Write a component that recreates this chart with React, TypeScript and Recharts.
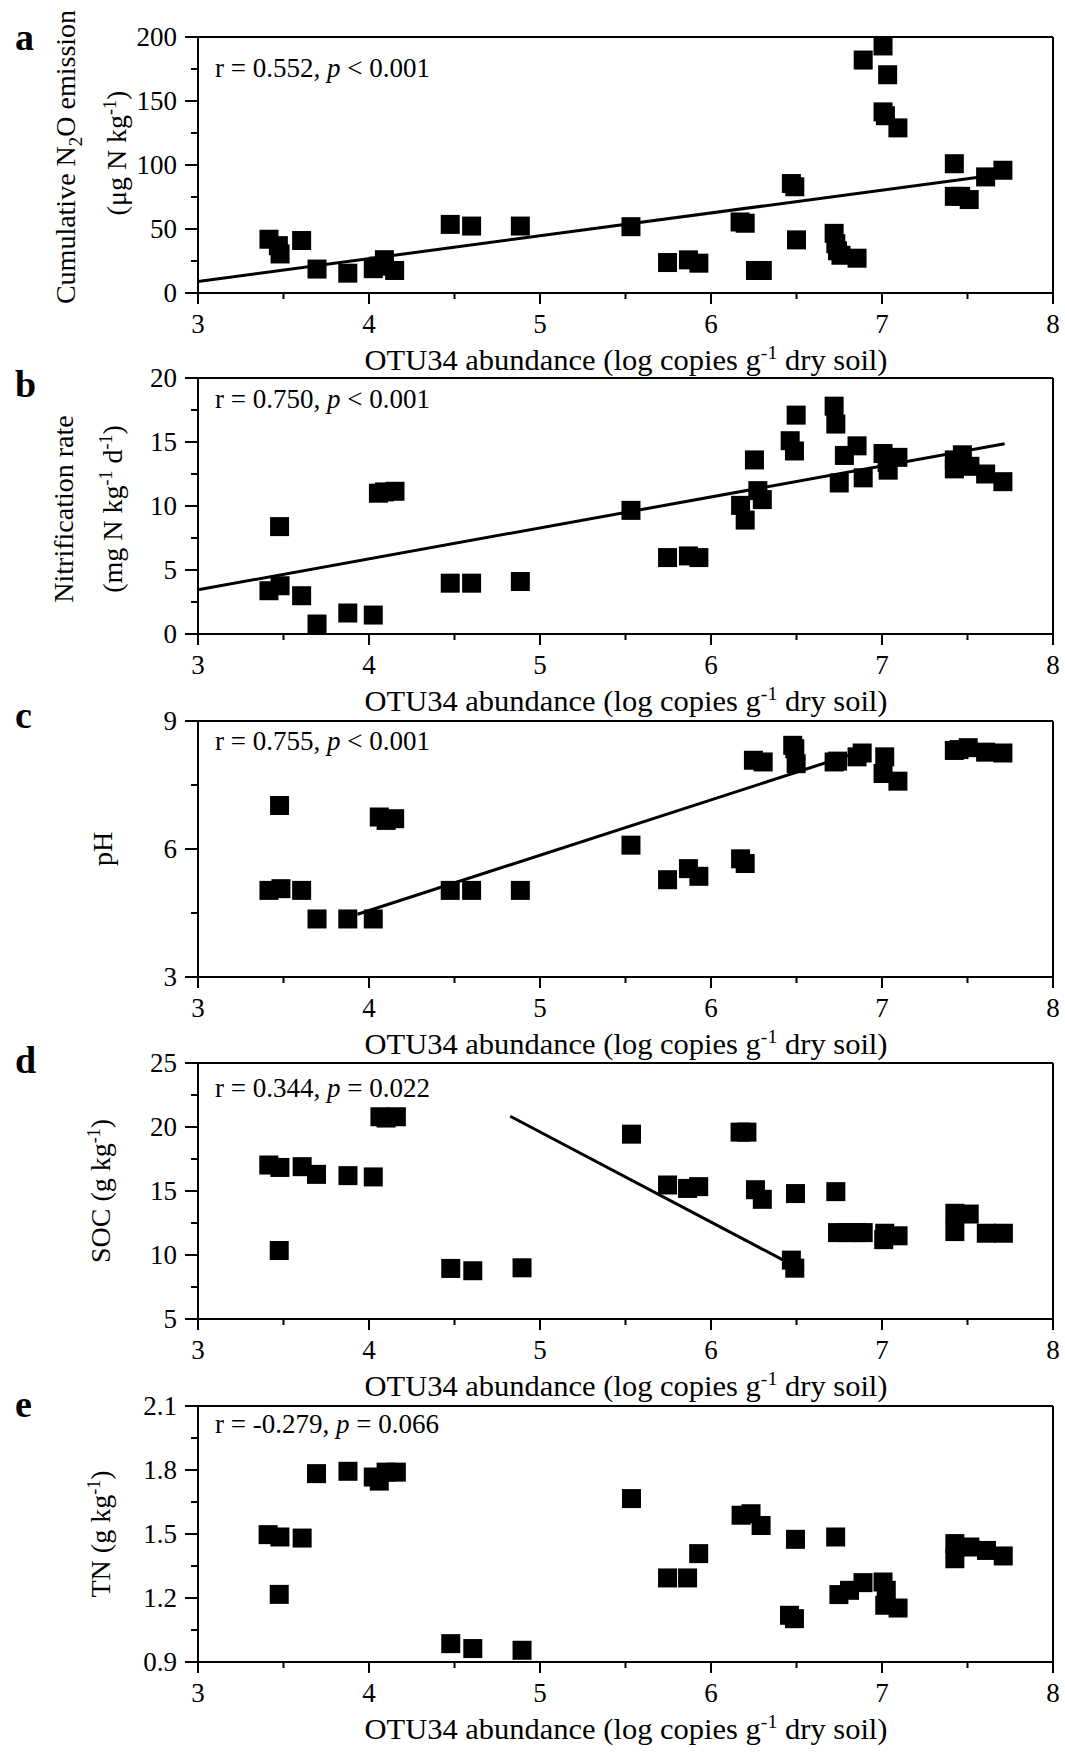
import React from 'react';
import { ScatterChart, Scatter, XAxis, YAxis, ReferenceLine } from 'recharts';

const FONT = '"Liberation Serif", "Times New Roman", Times, serif';

// shared x axis (OTU34 abundance, log copies)
const xTicksAll = [3, 3.5, 4, 4.5, 5, 5.5, 6, 6.5, 7, 7.5, 8];
const xTicksMajor = [3, 4, 5, 6, 7, 8];

// a: cumulative N2O emission
const n2oX = [3.415, 3.47, 3.48, 3.606, 3.696, 3.876, 4.025, 4.055, 4.09, 4.15, 4.475, 4.6, 4.885, 5.532, 5.746, 5.868, 5.929, 6.17, 6.2, 6.26, 6.3, 6.47, 6.49, 6.5, 6.72, 6.73, 6.74, 6.76, 6.854, 6.89, 7.006, 7.033, 7.006, 7.02, 7.093, 7.423, 7.423, 7.46, 7.51, 7.606, 7.707];
const n2oY = [42, 37, 30.5, 41, 18.7, 15.5, 19, 21, 26, 17.6, 53.6, 52.3, 52.3, 51.8, 23.8, 25.9, 23.3, 55.5, 54.5, 17.6, 17.6, 85.5, 83, 41.5, 46.6, 38.5, 33, 29.5, 27.2, 182, 193, 170.5, 141.5, 138.5, 129, 101, 75.5, 75.5, 73, 90.7, 95.9];
const n2oFitX = [3, 7.707];
const n2oFitY = [9, 93];
const n2oYTicks = [0, 25, 50, 75, 100, 125, 150, 175, 200];
const n2oYMajor = [0, 50, 100, 150, 200];

// b: nitrification rate
const nitX = [3.415, 3.48, 3.477, 3.606, 3.696, 3.876, 4.025, 4.055, 4.09, 4.152, 4.475, 4.6, 4.885, 5.532, 5.746, 5.868, 5.929, 6.173, 6.2, 6.254, 6.274, 6.3, 6.463, 6.488, 6.498, 6.72, 6.73, 6.78, 6.75, 6.854, 6.89, 7.006, 7.03, 7.036, 7.093, 7.423, 7.423, 7.47, 7.514, 7.606, 7.707];
const nitY = [3.38, 3.77, 8.39, 2.99, 0.78, 1.64, 1.48, 11.0, 11.1, 11.15, 3.97, 3.97, 4.1, 9.66, 5.97, 6.1, 5.97, 10.05, 8.9, 13.6, 11.2, 10.5, 15.1, 14.3, 17.1, 17.8, 16.4, 13.95, 11.8, 14.7, 12.2, 14.1, 13.4, 12.8, 13.8, 13.6, 12.9, 14.0, 13.1, 12.5, 11.9];
const nitFitX = [3, 7.717];
const nitFitY = [3.45, 14.86];
const nitYTicks = [0, 2.5, 5, 7.5, 10, 12.5, 15, 17.5, 20];
const nitYMajor = [0, 5, 10, 15, 20];

// c: pH
const phX = [3.415, 3.485, 3.477, 3.606, 3.696, 3.876, 4.025, 4.06, 4.1, 4.15, 4.475, 4.6, 4.885, 5.532, 5.746, 5.868, 5.929, 6.173, 6.2, 6.248, 6.305, 6.478, 6.49, 6.498, 6.72, 6.74, 6.854, 6.884, 7.016, 7.006, 7.093, 7.423, 7.45, 7.504, 7.606, 7.707];
const phY = [5.03, 5.07, 7.02, 5.03, 4.36, 4.36, 4.36, 6.75, 6.67, 6.71, 5.03, 5.03, 5.03, 6.09, 5.28, 5.54, 5.36, 5.77, 5.66, 8.08, 8.04, 8.43, 8.35, 8.0, 8.04, 8.06, 8.16, 8.25, 8.16, 7.77, 7.59, 8.31, 8.33, 8.375, 8.27, 8.25];
const phFitX = [3.933, 6.87];
const phFitY = [4.47, 8.28];
const phYTicks = [3, 4.5, 6, 7.5, 9];
const phYMajor = [3, 6, 9];

// d: SOC
const socX = [3.414, 3.479, 3.475, 3.609, 3.693, 3.877, 4.025, 4.064, 4.1, 4.16, 4.478, 4.607, 4.895, 5.535, 5.746, 5.863, 5.928, 6.17, 6.21, 6.26, 6.3, 6.494, 6.47, 6.49, 6.73, 6.74, 6.8, 6.85, 6.89, 7.016, 7.01, 7.094, 7.426, 7.51, 7.426, 7.61, 7.71];
const socY = [17.03, 16.84, 10.35, 16.9, 16.3, 16.2, 16.1, 20.8, 20.7, 20.8, 8.95, 8.77, 9.0, 19.44, 15.47, 15.2, 15.34, 19.6, 19.6, 15.1, 14.35, 14.8, 9.6, 8.97, 14.95, 11.75, 11.75, 11.75, 11.75, 11.7, 11.2, 11.5, 13.26, 13.2, 11.83, 11.7, 11.7];
const socFitX = [4.826, 6.42];
const socFitY = [20.84, 9.62];
const socYTicks = [5, 7.5, 10, 12.5, 15, 17.5, 20, 22.5, 25];
const socYMajor = [5, 10, 15, 20, 25];

// e: TN
const tnX = [3.41, 3.479, 3.475, 3.609, 3.693, 3.877, 4.025, 4.06, 4.1, 4.16, 4.478, 4.607, 4.895, 5.535, 5.746, 5.863, 5.928, 6.176, 6.234, 6.293, 6.494, 6.459, 6.488, 6.729, 6.748, 6.81, 6.889, 7.006, 7.025, 7.016, 7.094, 7.426, 7.426, 7.514, 7.611, 7.709];
const tnY = [1.497, 1.486, 1.217, 1.481, 1.783, 1.794, 1.767, 1.748, 1.79, 1.79, 0.986, 0.963, 0.955, 1.666, 1.294, 1.294, 1.408, 1.588, 1.595, 1.54, 1.475, 1.119, 1.103, 1.486, 1.216, 1.236, 1.272, 1.275, 1.236, 1.166, 1.153, 1.455, 1.384, 1.439, 1.423, 1.397];
const tnYTicks = [0.9, 1.05, 1.2, 1.35, 1.5, 1.65, 1.8, 1.95, 2.1];
const tnYMajor = [0.9, 1.2, 1.5, 1.8, 2.1];

const PLOT_LEFT = 198;
const PLOT_H = 256;
const MARGIN_TOP = 37;
const CHART_H = 340;
const X_AXIS_H = 40;
const Y_AXIS_W = 60;

const isIn = (v: number, arr: number[]) => arr.some((m) => Math.abs(m - v) < 1e-6);

const XTick = (props: any) => {
  const { x, y, payload } = props;
  const v = payload.value;
  const major = isIn(v, xTicksMajor);
  return (
    <g>
      <line x1={x} x2={x} y1={y} y2={y + (major ? 11 : 6)} stroke="#000" strokeWidth={2} />
      {major && (
        <text x={x} y={y + 31} textAnchor="middle" dominantBaseline="central" fontFamily={FONT} fontSize={27} fill="#000">
          {v}
        </text>
      )}
    </g>
  );
};

const makeYTick = (majors: number[], decimals: number) => (props: any) => {
  const { x, y, payload } = props;
  const v = payload.value;
  const major = isIn(v, majors);
  return (
    <g>
      <line x1={x - (major ? 13 : 7)} x2={x} y1={y} y2={y} stroke="#000" strokeWidth={2} />
      {major && (
        <text x={x - 21} y={y} textAnchor="end" dominantBaseline="central" fontFamily={FONT} fontSize={27} fill="#000">
          {v.toFixed(decimals)}
        </text>
      )}
    </g>
  );
};

const Square = (p: any) => <rect x={p.cx - 9.5} y={p.cy - 9.5} width={19} height={19} fill="#000" />;

type Panel = {
  key: string;
  xs: number[];
  ys: number[];
  yDomain: [number, number];
  yTicks: number[];
  yMajor: number[];
  decimals: number;
  fitX?: number[];
  fitY?: number[];
  plotTop: number;
};

const panels: Panel[] = [
  { key: 'a', xs: n2oX, ys: n2oY, yDomain: [0, 200], yTicks: n2oYTicks, yMajor: n2oYMajor, decimals: 0, fitX: n2oFitX, fitY: n2oFitY, plotTop: 37 },
  { key: 'b', xs: nitX, ys: nitY, yDomain: [0, 20], yTicks: nitYTicks, yMajor: nitYMajor, decimals: 0, fitX: nitFitX, fitY: nitFitY, plotTop: 378 },
  { key: 'c', xs: phX, ys: phY, yDomain: [3, 9], yTicks: phYTicks, yMajor: phYMajor, decimals: 0, fitX: phFitX, fitY: phFitY, plotTop: 721 },
  { key: 'd', xs: socX, ys: socY, yDomain: [5, 25], yTicks: socYTicks, yMajor: socYMajor, decimals: 0, fitX: socFitX, fitY: socFitY, plotTop: 1063 },
  { key: 'e', xs: tnX, ys: tnY, yDomain: [0.9, 2.1], yTicks: tnYTicks, yMajor: tnYMajor, decimals: 1, plotTop: 1406 },
];

const PanelChart = ({ p }: { p: Panel }) => {
  const data = p.xs.map((x, i) => ({ x, y: p.ys[i] }));
  const YT = makeYTick(p.yMajor, p.decimals);
  return (
    <div style={{ position: 'absolute', left: 0, top: p.plotTop - MARGIN_TOP }}>
      <ScatterChart
        width={1065}
        height={CHART_H}
        margin={{ top: MARGIN_TOP, right: 12, bottom: CHART_H - MARGIN_TOP - PLOT_H - X_AXIS_H, left: PLOT_LEFT - Y_AXIS_W }}
      >
        <XAxis
          type="number"
          dataKey="x"
          domain={[3, 8]}
          ticks={xTicksAll}
          interval={0}
          height={X_AXIS_H}
          tickSize={0}
          tickMargin={0}
          tickLine={false}
          axisLine={{ stroke: '#000', strokeWidth: 2 }}
          tick={(tp: any) => <XTick {...tp} />}
          allowDataOverflow
        />
        <YAxis
          type="number"
          dataKey="y"
          domain={p.yDomain}
          ticks={p.yTicks}
          interval={0}
          width={Y_AXIS_W}
          tickSize={0}
          tickMargin={0}
          tickLine={false}
          axisLine={{ stroke: '#000', strokeWidth: 2 }}
          tick={(tp: any) => <YT {...tp} />}
          allowDataOverflow
        />
        <ReferenceLine y={p.yDomain[1]} stroke="#000" strokeWidth={2} />
        <ReferenceLine x={8} stroke="#000" strokeWidth={2} />
        {p.fitX && p.fitY && (
          <ReferenceLine
            segment={[
              { x: p.fitX[0], y: p.fitY[0] },
              { x: p.fitX[1], y: p.fitY[1] },
            ]}
            stroke="#000"
            strokeWidth={3}
          />
        )}
        <Scatter data={data} fill="#000" shape={Square} isAnimationActive={false} />
      </ScatterChart>
    </div>
  );
};

const T = { fontFamily: FONT, fill: '#000' } as const;

const XTitle = ({ axisY }: { axisY: number }) => (
  <text x={626} y={axisY + 77} textAnchor="middle" fontSize={29} textLength={523} lengthAdjust="spacingAndGlyphs" {...T}>
    OTU34 abundance (log copies g
    <tspan dy={-11} fontSize={19}>-1</tspan>
    <tspan dy={11}> dry soil)</tspan>
  </text>
);

const RText = ({ y, r, rel, pv }: { y: number; r: string; rel: string; pv: string }) => (
  <text x={215} y={y} fontSize={27} {...T}>
    {`r = ${r}, `}
    <tspan fontStyle="italic">p</tspan>
    {` ${rel} ${pv}`}
  </text>
);

const rot = (bx: number, cy: number) => `translate(${bx},${cy}) rotate(-90)`;

export default function App() {
  return (
    <div style={{ position: 'absolute', left: 0, top: 0, width: 1065, height: 1754, background: '#fff', overflow: 'hidden' }}>
      {panels.map((p) => (
        <PanelChart key={p.key} p={p} />
      ))}
      <svg width={1065} height={1754} style={{ position: 'absolute', left: 0, top: 0, pointerEvents: 'none' }}>
        {/* panel letters */}
        <text x={15} y={50} fontSize={38} fontWeight="bold" {...T}>a</text>
        <text x={15} y={397} fontSize={38} fontWeight="bold" {...T}>b</text>
        <text x={15} y={728} fontSize={38} fontWeight="bold" {...T}>c</text>
        <text x={15} y={1073} fontSize={38} fontWeight="bold" {...T}>d</text>
        <text x={15} y={1417} fontSize={38} fontWeight="bold" {...T}>e</text>

        {/* y titles */}
        <text transform={rot(75, 157)} textAnchor="middle" fontSize={28} {...T}>
          Cumulative N
          <tspan dy={7} fontSize={19}>2</tspan>
          <tspan dy={-7}>O emission</tspan>
        </text>
        <text transform={rot(126, 153)} textAnchor="middle" fontSize={28} {...T}>
          (μg N kg
          <tspan dy={-10} fontSize={18}>-1</tspan>
          <tspan dy={10}>)</tspan>
        </text>
        <text transform={rot(73, 509)} textAnchor="middle" fontSize={28} {...T}>
          Nitrification rate
        </text>
        <text transform={rot(122, 509)} textAnchor="middle" fontSize={28} {...T}>
          (mg N kg
          <tspan dy={-10} fontSize={18}>-1</tspan>
          <tspan dy={10}> d</tspan>
          <tspan dy={-10} fontSize={18}>-1</tspan>
          <tspan dy={10}>)</tspan>
        </text>
        <text transform={rot(112, 849)} textAnchor="middle" fontSize={28} {...T}>
          pH
        </text>
        <text transform={rot(110, 1191)} textAnchor="middle" fontSize={28} {...T}>
          SOC (g kg
          <tspan dy={-10} fontSize={18}>-1</tspan>
          <tspan dy={10}>)</tspan>
        </text>
        <text transform={rot(110, 1534)} textAnchor="middle" fontSize={28} {...T}>
          TN (g kg
          <tspan dy={-10} fontSize={18}>-1</tspan>
          <tspan dy={10}>)</tspan>
        </text>

        {/* x titles */}
        {panels.map((p) => (
          <XTitle key={p.key} axisY={p.plotTop + PLOT_H} />
        ))}

        {/* correlation texts */}
        <RText y={77} r="0.552" rel="<" pv="0.001" />
        <RText y={408} r="0.750" rel="<" pv="0.001" />
        <RText y={750} r="0.755" rel="<" pv="0.001" />
        <RText y={1097} r="0.344" rel="=" pv="0.022" />
        <RText y={1433} r="-0.279" rel="=" pv="0.066" />
      </svg>
    </div>
  );
}
